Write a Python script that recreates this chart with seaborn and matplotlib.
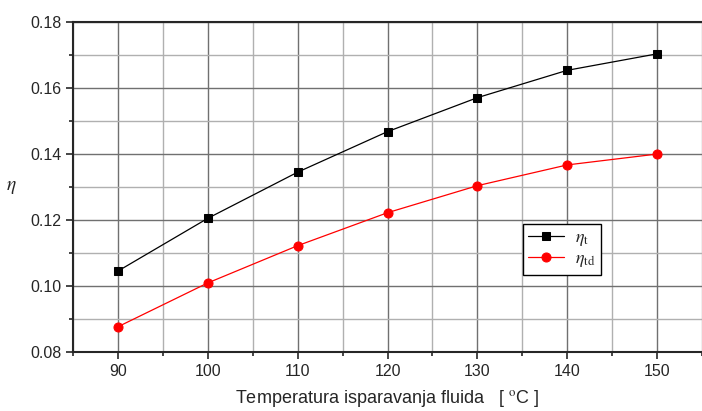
import matplotlib
matplotlib.use("Agg")
import matplotlib.pyplot as plt
import numpy as np
import pandas as pd
import seaborn as sns
from matplotlib.ticker import MultipleLocator

temps = [90, 100, 110, 120, 130, 140, 150]
eta_t = [0.1045, 0.1205, 0.1345, 0.1468, 0.1571, 0.1654, 0.1704]
eta_td = [0.0876, 0.1009, 0.1122, 0.1222, 0.1304, 0.1367, 0.1400]

sns.set_style("ticks")
plt.rcParams['font.family'] = ['Liberation Sans', 'DejaVu Sans']
plt.rcParams['mathtext.fontset'] = 'stix'

fig = plt.figure(figsize=(7.02, 4.11), dpi=100)
ax = fig.add_axes([0.104, 0.144, 0.896, 0.802])

sns.lineplot(x=temps, y=eta_t, ax=ax, color='black', lw=0.9, marker='s',
             markersize=5.5, markeredgecolor='black', label=r'$\eta_{\rm t}$')
sns.lineplot(x=temps, y=eta_td, ax=ax, color='red', lw=0.9, marker='o',
             markersize=6.5, markeredgecolor='red', label=r'$\eta_{\rm td}$')

ax.set_xlim(85, 155)
ax.set_ylim(0.08, 0.18)
ax.xaxis.set_major_locator(MultipleLocator(10))
ax.xaxis.set_minor_locator(MultipleLocator(5))
ax.yaxis.set_major_locator(MultipleLocator(0.02))
ax.yaxis.set_minor_locator(MultipleLocator(0.01))
ax.yaxis.set_major_formatter(matplotlib.ticker.FormatStrFormatter('%.2f'))

ax.grid(which='major', color='#707070', lw=1.0)
ax.grid(which='minor', color='#b0b0b0', lw=1.0)
ax.set_axisbelow(True)

ax.tick_params(which='major', direction='out', length=5, width=1.2, labelsize=11.5)
ax.tick_params(which='minor', direction='out', length=3, width=1.2)
for side in ['left', 'bottom', 'top']:
    ax.spines[side].set_linewidth(1.5)
ax.spines['right'].set_visible(False)
ax.spines['top'].set_visible(True)

ax.set_ylabel(r'$\eta$', fontsize=14, rotation=0, ha='center', va='center')
ax.yaxis.set_label_coords(-0.098, 0.5)
ax.set_xlabel('Temperatura isparavanja fluida   [ $^{\\rm o}$C ]', fontsize=13, labelpad=7)

leg = ax.legend(loc='upper left', bbox_to_anchor=(0.715, 0.388), fontsize=13,
                frameon=True, fancybox=False, edgecolor='black', framealpha=1,
                handlelength=2.0, borderpad=0.3, labelspacing=0.1,
                handletextpad=0.6, borderaxespad=0)
leg.get_frame().set_linewidth(1.0)

fig.savefig('out.png', dpi=100)
